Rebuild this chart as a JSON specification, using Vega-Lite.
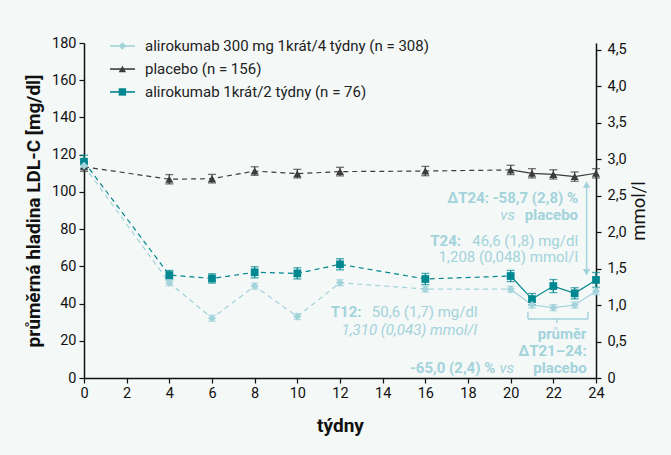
{
  "$schema": "https://vega.github.io/schema/vega-lite/v6.json",
  "autosize": {"type": "none"},
  "width": 512,
  "height": 335,
  "padding": {"left": 84, "top": 43, "right": 75, "bottom": 77},
  "background": "#f4f8f7",
  "config": {
    "view": {"stroke": null},
    "font": "Roboto",
    "axis": {
      "domainColor": "#111111", "domainWidth": 1.5, "tickColor": "#111111", "tickWidth": 1.2, "tickSize": 5,
      "labelColor": "#111111", "labelFont": "Roboto", "labelFontSize": 14.5, "labelPadding": 3, "labelFlush": false,
      "titleColor": "#111111", "titleFont": "Roboto", "titleFontSize": 19, "titleFontWeight": "bold", "grid": false
    },
    "axisX": {"titlePadding": 17},
    "axisLeft": {"titlePadding": 8},
    "axisRight": {"titleFontSize": 18.5, "titleFontWeight": "normal"}
  },
  "datasets": {
    "ldl": [
      {"s": "alirokumab 300 mg 1krát/4 týdny (n = 308)", "w": 0, "m": 114.0, "lo": 112.4, "hi": 115.6},
      {"s": "alirokumab 300 mg 1krát/4 týdny (n = 308)", "w": 4, "m": 51.2, "lo": 49.6, "hi": 52.8},
      {"s": "alirokumab 300 mg 1krát/4 týdny (n = 308)", "w": 6, "m": 32.1, "lo": 30.5, "hi": 33.7},
      {"s": "alirokumab 300 mg 1krát/4 týdny (n = 308)", "w": 8, "m": 49.4, "lo": 47.8, "hi": 51.0},
      {"s": "alirokumab 300 mg 1krát/4 týdny (n = 308)", "w": 10, "m": 33.0, "lo": 31.4, "hi": 34.6},
      {"s": "alirokumab 300 mg 1krát/4 týdny (n = 308)", "w": 12, "m": 51.2, "lo": 49.6, "hi": 52.8},
      {"s": "alirokumab 300 mg 1krát/4 týdny (n = 308)", "w": 16, "m": 47.8, "lo": 46.2, "hi": 49.4},
      {"s": "alirokumab 300 mg 1krát/4 týdny (n = 308)", "w": 20, "m": 47.7, "lo": 46.1, "hi": 49.3},
      {"s": "alirokumab 300 mg 1krát/4 týdny (n = 308)", "w": 21, "m": 39.2, "lo": 37.6, "hi": 40.8},
      {"s": "alirokumab 300 mg 1krát/4 týdny (n = 308)", "w": 22, "m": 37.8, "lo": 36.2, "hi": 39.4},
      {"s": "alirokumab 300 mg 1krát/4 týdny (n = 308)", "w": 23, "m": 39.2, "lo": 37.6, "hi": 40.8},
      {"s": "alirokumab 300 mg 1krát/4 týdny (n = 308)", "w": 24, "m": 46.6, "lo": 44.8, "hi": 48.4},
      {"s": "placebo (n = 156)", "w": 0, "m": 113.5, "lo": 111.0, "hi": 116.0},
      {"s": "placebo (n = 156)", "w": 4, "m": 106.8, "lo": 104.3, "hi": 109.3},
      {"s": "placebo (n = 156)", "w": 6, "m": 107.1, "lo": 104.8, "hi": 109.4},
      {"s": "placebo (n = 156)", "w": 8, "m": 111.2, "lo": 108.9, "hi": 113.5},
      {"s": "placebo (n = 156)", "w": 10, "m": 109.8, "lo": 107.5, "hi": 112.1},
      {"s": "placebo (n = 156)", "w": 12, "m": 110.9, "lo": 108.6, "hi": 113.2},
      {"s": "placebo (n = 156)", "w": 16, "m": 111.2, "lo": 108.7, "hi": 113.7},
      {"s": "placebo (n = 156)", "w": 20, "m": 111.8, "lo": 109.3, "hi": 114.3},
      {"s": "placebo (n = 156)", "w": 21, "m": 110.0, "lo": 107.5, "hi": 112.5},
      {"s": "placebo (n = 156)", "w": 22, "m": 109.4, "lo": 106.9, "hi": 111.9},
      {"s": "placebo (n = 156)", "w": 23, "m": 108.2, "lo": 105.7, "hi": 110.7},
      {"s": "placebo (n = 156)", "w": 24, "m": 110.0, "lo": 107.5, "hi": 112.5},
      {"s": "alirokumab 1krát/2 týdny (n = 76)", "w": 0, "m": 116.2, "lo": 112.7, "hi": 119.7},
      {"s": "alirokumab 1krát/2 týdny (n = 76)", "w": 4, "m": 55.3, "lo": 52.8, "hi": 57.8},
      {"s": "alirokumab 1krát/2 týdny (n = 76)", "w": 6, "m": 53.5, "lo": 51.0, "hi": 56.0},
      {"s": "alirokumab 1krát/2 týdny (n = 76)", "w": 8, "m": 56.8, "lo": 53.8, "hi": 59.8},
      {"s": "alirokumab 1krát/2 týdny (n = 76)", "w": 10, "m": 56.2, "lo": 53.2, "hi": 59.2},
      {"s": "alirokumab 1krát/2 týdny (n = 76)", "w": 12, "m": 61.1, "lo": 58.1, "hi": 64.1},
      {"s": "alirokumab 1krát/2 týdny (n = 76)", "w": 16, "m": 53.2, "lo": 50.2, "hi": 56.2},
      {"s": "alirokumab 1krát/2 týdny (n = 76)", "w": 20, "m": 54.8, "lo": 51.8, "hi": 57.8},
      {"s": "alirokumab 1krát/2 týdny (n = 76)", "w": 21, "m": 42.4, "lo": 39.4, "hi": 45.4},
      {"s": "alirokumab 1krát/2 týdny (n = 76)", "w": 22, "m": 49.4, "lo": 45.9, "hi": 52.9},
      {"s": "alirokumab 1krát/2 týdny (n = 76)", "w": 23, "m": 45.5, "lo": 42.5, "hi": 48.5},
      {"s": "alirokumab 1krát/2 týdny (n = 76)", "w": 24, "m": 52.7, "lo": 48.7, "hi": 56.7}
    ],
    "leg": [
      {"s": "alirokumab 300 mg 1krát/4 týdny (n = 308)", "x1": 1.22, "xm": 1.8, "x2": 2.39, "xt": 2.86, "y": 178.4},
      {"s": "placebo (n = 156)", "x1": 1.22, "xm": 1.8, "x2": 2.39, "xt": 2.86, "y": 166.0},
      {"s": "alirokumab 1krát/2 týdny (n = 76)", "x1": 1.22, "xm": 1.8, "x2": 2.39, "xt": 2.86, "y": 153.7}
    ],
    "notes": [
      {"t": "ΔT24: -58,7 (2,8) %", "w": 23.16, "m": 96.7, "k": "rb"},
      {"t": "placebo", "w": 23.16, "m": 87.6, "k": "rb"},
      {"t": "vs", "w": 20.2, "m": 87.6, "k": "ri"},
      {"t": "T24:", "w": 17.67, "m": 73.8, "k": "rb"},
      {"t": "46,6 (1,8) mg/dl", "w": 23.16, "m": 73.8, "k": "rn"},
      {"t": "1,208 (0,048) mmol/l", "w": 23.16, "m": 65.0, "k": "rn"},
      {"t": "T12:", "w": 13.01, "m": 35.6, "k": "rb"},
      {"t": "50,6 (1,7) mg/dl", "w": 18.45, "m": 35.6, "k": "rn"},
      {"t": "1,310 (0,043) mmol/l", "w": 18.42, "m": 25.8, "k": "ri"},
      {"t": "průměr", "w": 23.56, "m": 23.5, "k": "rb"},
      {"t": "ΔT21–24:", "w": 23.56, "m": 14.4, "k": "rb"},
      {"t": "placebo", "w": 23.56, "m": 5.2, "k": "rb"},
      {"t": "vs", "w": 20.16, "m": 5.2, "k": "ri"},
      {"t": "-65,0 (2,4) %", "w": 19.28, "m": 5.2, "k": "rb"}
    ],
    "segs": [
      {"x1": 23.56, "x2": 23.56, "y1": 104.5, "y2": 56.0},
      {"x1": 20.81, "x2": 23.62, "y1": 31.7, "y2": 31.7},
      {"x1": 20.81, "x2": 20.81, "y1": 31.7, "y2": 35.6},
      {"x1": 23.62, "x2": 23.62, "y1": 31.7, "y2": 35.6},
      {"x1": 22.17, "x2": 22.17, "y1": 31.7, "y2": 29.6}
    ],
    "heads": [
      {"w": 23.56, "m": 104.0, "dir": "up"},
      {"w": 23.56, "m": 56.8, "dir": "down"}
    ]
  },
  "layer": [
    {
      "layer": [
        {
          "data": {"name": "segs"},
          "mark": {"type": "rule", "color": "#a3d3db", "strokeWidth": 1.5},
          "encoding": {
            "x": {"field": "x1", "type": "quantitative", "scale": {"domain": [0, 24], "nice": false}, "title": "týdny",
              "axis": {"values": [0, 2, 4, 6, 8, 10, 12, 14, 16, 18, 20, 22, 24]}},
            "x2": {"field": "x2"},
            "y": {"field": "y1", "type": "quantitative", "scale": {"domain": [0, 180], "nice": false}, "title": "průměrná hladina LDL-C [mg/dl]",
              "axis": {"values": [0, 20, 40, 60, 80, 100, 120, 140, 160, 180]}},
            "y2": {"field": "y2"}
          }
        },
        {
          "data": {"name": "heads"},
          "transform": [{"filter": "datum.dir === 'up'"}],
          "mark": {"type": "point", "filled": true, "color": "#a3d3db", "size": 55, "opacity": 1, "shape": "triangle-up"},
          "encoding": {
            "x": {"field": "w", "type": "quantitative", "title": "týdny", "axis": {"values": [0, 2, 4, 6, 8, 10, 12, 14, 16, 18, 20, 22, 24]}},
            "y": {"field": "m", "type": "quantitative", "title": "průměrná hladina LDL-C [mg/dl]", "axis": {"values": [0, 20, 40, 60, 80, 100, 120, 140, 160, 180]}}
          }
        },
        {
          "data": {"name": "heads"},
          "transform": [{"filter": "datum.dir === 'down'"}],
          "mark": {"type": "point", "filled": true, "color": "#a3d3db", "size": 55, "opacity": 1, "shape": "triangle-down"},
          "encoding": {
            "x": {"field": "w", "type": "quantitative", "title": "týdny", "axis": {"values": [0, 2, 4, 6, 8, 10, 12, 14, 16, 18, 20, 22, 24]}},
            "y": {"field": "m", "type": "quantitative", "title": "průměrná hladina LDL-C [mg/dl]", "axis": {"values": [0, 20, 40, 60, 80, 100, 120, 140, 160, 180]}}
          }
        },
        {
          "data": {"name": "ldl"},
          "transform": [{"filter": "datum.w <= 20"}],
          "mark": {"type": "line", "strokeWidth": 1.2, "strokeDash": [5, 4]},
          "encoding": {
            "x": {"field": "w", "type": "quantitative", "title": "týdny", "axis": {"values": [0, 2, 4, 6, 8, 10, 12, 14, 16, 18, 20, 22, 24]}},
            "y": {"field": "m", "type": "quantitative", "title": "průměrná hladina LDL-C [mg/dl]", "axis": {"values": [0, 20, 40, 60, 80, 100, 120, 140, 160, 180]}},
            "color": {"field": "s", "type": "nominal",
              "scale": {"domain": ["alirokumab 300 mg 1krát/4 týdny (n = 308)", "placebo (n = 156)", "alirokumab 1krát/2 týdny (n = 76)"], "range": ["#a3d3db", "#3c3c3c", "#00878f"]},
              "legend": null},
            "order": {"field": "w"}
          }
        },
        {
          "data": {"name": "ldl"},
          "transform": [{"filter": "datum.w >= 20"}],
          "mark": {"type": "line", "strokeWidth": 1.2},
          "encoding": {
            "x": {"field": "w", "type": "quantitative", "title": "týdny", "axis": {"values": [0, 2, 4, 6, 8, 10, 12, 14, 16, 18, 20, 22, 24]}},
            "y": {"field": "m", "type": "quantitative", "title": "průměrná hladina LDL-C [mg/dl]", "axis": {"values": [0, 20, 40, 60, 80, 100, 120, 140, 160, 180]}},
            "color": {"field": "s", "type": "nominal", "legend": null},
            "order": {"field": "w"}
          }
        },
        {
          "data": {"name": "ldl"},
          "mark": {"type": "errorbar", "ticks": {"size": 8}, "thickness": 1.3},
          "encoding": {
            "x": {"field": "w", "type": "quantitative", "title": "týdny", "axis": {"values": [0, 2, 4, 6, 8, 10, 12, 14, 16, 18, 20, 22, 24]}},
            "y": {"field": "lo", "type": "quantitative", "title": "průměrná hladina LDL-C [mg/dl]", "axis": {"values": [0, 20, 40, 60, 80, 100, 120, 140, 160, 180]}},
            "y2": {"field": "hi"},
            "color": {"field": "s", "type": "nominal", "legend": null}
          }
        },
        {
          "data": {"name": "ldl"},
          "transform": [{"filter": "datum.s === 'placebo (n = 156)'"}],
          "mark": {"type": "point", "filled": true, "opacity": 1, "size": 65, "shape": "triangle-up"},
          "encoding": {
            "x": {"field": "w", "type": "quantitative", "title": "týdny", "axis": {"values": [0, 2, 4, 6, 8, 10, 12, 14, 16, 18, 20, 22, 24]}},
            "y": {"field": "m", "type": "quantitative", "title": "průměrná hladina LDL-C [mg/dl]", "axis": {"values": [0, 20, 40, 60, 80, 100, 120, 140, 160, 180]}},
            "color": {"field": "s", "type": "nominal", "legend": null}
          }
        },
        {
          "data": {"name": "ldl"},
          "transform": [{"filter": "datum.s === 'alirokumab 1krát/2 týdny (n = 76)'"}],
          "mark": {"type": "point", "filled": true, "opacity": 1, "size": 60, "shape": "square"},
          "encoding": {
            "x": {"field": "w", "type": "quantitative", "title": "týdny", "axis": {"values": [0, 2, 4, 6, 8, 10, 12, 14, 16, 18, 20, 22, 24]}},
            "y": {"field": "m", "type": "quantitative", "title": "průměrná hladina LDL-C [mg/dl]", "axis": {"values": [0, 20, 40, 60, 80, 100, 120, 140, 160, 180]}},
            "color": {"field": "s", "type": "nominal", "legend": null}
          }
        },
        {
          "data": {"name": "ldl"},
          "transform": [{"filter": "datum.s === 'alirokumab 300 mg 1krát/4 týdny (n = 308)'"}],
          "mark": {"type": "point", "filled": true, "opacity": 1, "size": 65, "shape": "diamond"},
          "encoding": {
            "x": {"field": "w", "type": "quantitative", "title": "týdny", "axis": {"values": [0, 2, 4, 6, 8, 10, 12, 14, 16, 18, 20, 22, 24]}},
            "y": {"field": "m", "type": "quantitative", "title": "průměrná hladina LDL-C [mg/dl]", "axis": {"values": [0, 20, 40, 60, 80, 100, 120, 140, 160, 180]}},
            "color": {"field": "s", "type": "nominal", "legend": null}
          }
        },
        {
          "data": {"name": "leg"},
          "mark": {"type": "rule", "strokeWidth": 1.6},
          "encoding": {
            "x": {"field": "x1", "type": "quantitative", "title": "týdny", "axis": {"values": [0, 2, 4, 6, 8, 10, 12, 14, 16, 18, 20, 22, 24]}},
            "x2": {"field": "x2"},
            "y": {"field": "y", "type": "quantitative", "title": "průměrná hladina LDL-C [mg/dl]", "axis": {"values": [0, 20, 40, 60, 80, 100, 120, 140, 160, 180]}},
            "color": {"field": "s", "type": "nominal", "legend": null}
          }
        },
        {
          "data": {"name": "leg"},
          "mark": {"type": "point", "filled": true, "opacity": 1, "size": 55},
          "encoding": {
            "x": {"field": "xm", "type": "quantitative", "title": "týdny", "axis": {"values": [0, 2, 4, 6, 8, 10, 12, 14, 16, 18, 20, 22, 24]}},
            "y": {"field": "y", "type": "quantitative", "title": "průměrná hladina LDL-C [mg/dl]", "axis": {"values": [0, 20, 40, 60, 80, 100, 120, 140, 160, 180]}},
            "color": {"field": "s", "type": "nominal", "legend": null},
            "shape": {"field": "s", "type": "nominal",
              "scale": {"domain": ["alirokumab 300 mg 1krát/4 týdny (n = 308)", "placebo (n = 156)", "alirokumab 1krát/2 týdny (n = 76)"], "range": ["diamond", "triangle-up", "square"]},
              "legend": null}
          }
        },
        {
          "data": {"name": "leg"},
          "mark": {"type": "text", "align": "left", "baseline": "middle", "fontSize": 15, "color": "#222222"},
          "encoding": {
            "x": {"field": "xt", "type": "quantitative", "title": "týdny", "axis": {"values": [0, 2, 4, 6, 8, 10, 12, 14, 16, 18, 20, 22, 24]}},
            "y": {"field": "y", "type": "quantitative", "title": "průměrná hladina LDL-C [mg/dl]", "axis": {"values": [0, 20, 40, 60, 80, 100, 120, 140, 160, 180]}},
            "text": {"field": "s"}
          }
        },
        {
          "data": {"name": "notes"},
          "transform": [{"filter": "datum.k === 'rb'"}],
          "mark": {"type": "text", "align": "right", "baseline": "middle", "fontWeight": "bold", "fontSize": 15, "color": "#a3d3db"},
          "encoding": {
            "x": {"field": "w", "type": "quantitative", "title": "týdny", "axis": {"values": [0, 2, 4, 6, 8, 10, 12, 14, 16, 18, 20, 22, 24]}},
            "y": {"field": "m", "type": "quantitative", "title": "průměrná hladina LDL-C [mg/dl]", "axis": {"values": [0, 20, 40, 60, 80, 100, 120, 140, 160, 180]}},
            "text": {"field": "t"}
          }
        },
        {
          "data": {"name": "notes"},
          "transform": [{"filter": "datum.k === 'rn'"}],
          "mark": {"type": "text", "align": "right", "baseline": "middle", "fontSize": 15, "color": "#a3d3db"},
          "encoding": {
            "x": {"field": "w", "type": "quantitative", "title": "týdny", "axis": {"values": [0, 2, 4, 6, 8, 10, 12, 14, 16, 18, 20, 22, 24]}},
            "y": {"field": "m", "type": "quantitative", "title": "průměrná hladina LDL-C [mg/dl]", "axis": {"values": [0, 20, 40, 60, 80, 100, 120, 140, 160, 180]}},
            "text": {"field": "t"}
          }
        },
        {
          "data": {"name": "notes"},
          "transform": [{"filter": "datum.k === 'ri'"}],
          "mark": {"type": "text", "align": "right", "baseline": "middle", "fontSize": 15, "fontStyle": "italic", "color": "#a3d3db"},
          "encoding": {
            "x": {"field": "w", "type": "quantitative", "title": "týdny", "axis": {"values": [0, 2, 4, 6, 8, 10, 12, 14, 16, 18, 20, 22, 24]}},
            "y": {"field": "m", "type": "quantitative", "title": "průměrná hladina LDL-C [mg/dl]", "axis": {"values": [0, 20, 40, 60, 80, 100, 120, 140, 160, 180]}},
            "text": {"field": "t"}
          }
        }
      ]
    },
    {
      "data": {"values": [{"v": 0}]},
      "mark": {"type": "point", "opacity": 0},
      "encoding": {
        "y": {"field": "v", "type": "quantitative", "scale": {"domain": [0, 4.596], "nice": false}, "title": "mmol/l",
          "axis": {"orient": "right", "values": [0, 0.5, 1, 1.5, 2, 2.5, 3, 3.5, 4, 4.5],
            "labelExpr": "datum.value == 0 ? '0' : replace(format(datum.value, '.1f'), '.', ',')",
            "titleAngle": -90, "titleFontSize": 18.5, "titleFontWeight": "normal", "titlePadding": 22, "labelPadding": 6}}
      }
    }
  ],
  "resolve": {"scale": {"y": "independent"}}
}
